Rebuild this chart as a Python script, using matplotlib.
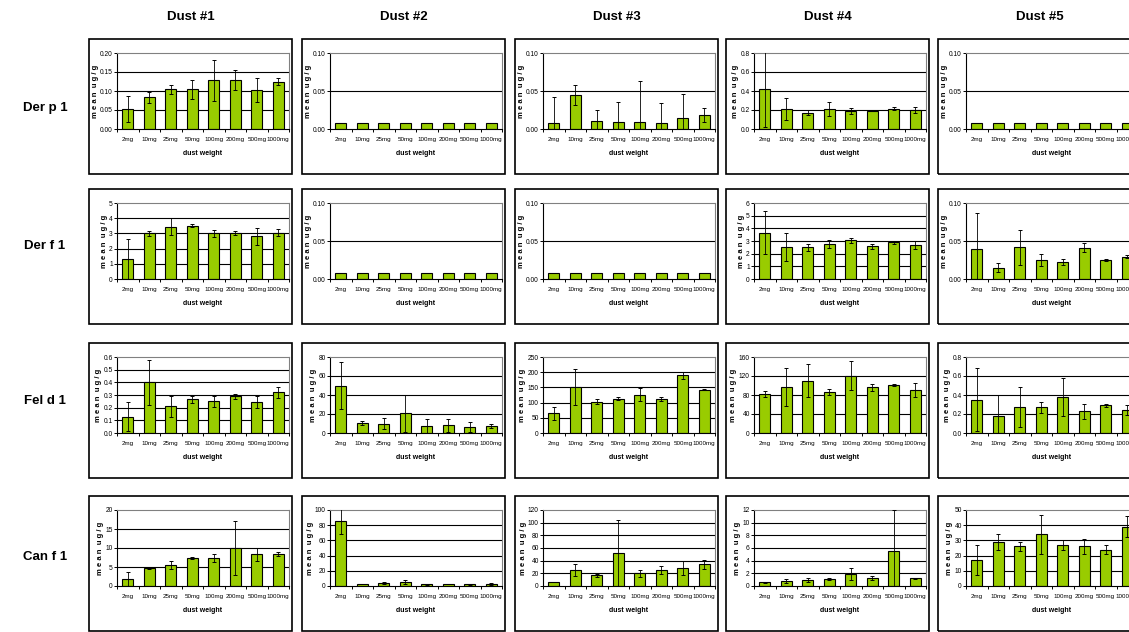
import numpy as np
import matplotlib.pyplot as plt
from matplotlib.patches import Rectangle

plt.rcParams['font.family'] = ['Liberation Sans', 'DejaVu Sans']

weights = ['2mg', '10mg', '25mg', '50mg', '100mg', '200mg', '500mg', '1000mg']
dusts = ['Dust #1', 'Dust #2', 'Dust #3', 'Dust #4', 'Dust #5']
allergens = ['Der p 1', 'Der f 1', 'Fel d 1', 'Can f 1']

# mean ug/g and error per dust weight, one row per dust sample
der_p1_mean = [[0.052, 0.083, 0.105, 0.105, 0.128, 0.128, 0.103, 0.125],
               [0.008, 0.008, 0.008, 0.008, 0.008, 0.008, 0.008, 0.008],
               [0.008, 0.045, 0.011, 0.009, 0.009, 0.008, 0.015, 0.018],
               [0.42, 0.21, 0.17, 0.21, 0.19, 0.185, 0.215, 0.20],
               [0.008, 0.008, 0.008, 0.008, 0.008, 0.008, 0.008, 0.008]]
der_p1_err = [[0.034, 0.014, 0.012, 0.025, 0.054, 0.026, 0.031, 0.010],
              [0, 0, 0, 0, 0, 0, 0, 0],
              [0.034, 0.013, 0.014, 0.026, 0.054, 0.026, 0.031, 0.009],
              [0.40, 0.12, 0.025, 0.07, 0.03, 0.0, 0.015, 0.03],
              [0, 0, 0, 0, 0, 0, 0, 0]]

der_f1_mean = [[1.3, 3.0, 3.45, 3.5, 3.0, 3.05, 2.8, 3.05],
               [0.008, 0.008, 0.008, 0.008, 0.008, 0.008, 0.008, 0.008],
               [0.008, 0.008, 0.008, 0.008, 0.008, 0.008, 0.008, 0.008],
               [3.65, 2.5, 2.5, 2.75, 3.05, 2.6, 2.9, 2.7],
               [0.040, 0.015, 0.042, 0.025, 0.022, 0.041, 0.025, 0.029]]
der_f1_err = [[1.3, 0.15, 0.58, 0.1, 0.25, 0.13, 0.55, 0.25],
              [0, 0, 0, 0, 0, 0, 0, 0],
              [0, 0, 0, 0, 0, 0, 0, 0],
              [1.7, 1.1, 0.25, 0.3, 0.2, 0.2, 0.1, 0.3],
              [0.047, 0.006, 0.023, 0.008, 0.004, 0.006, 0.001, 0.002]]

fel_d1_mean = [[0.13, 0.40, 0.21, 0.265, 0.25, 0.29, 0.245, 0.32],
               [50, 10.5, 10, 21, 7.5, 8, 6.5, 7.5],
               [65, 152, 103, 113, 126, 113, 190, 143],
               [82, 97, 110, 86, 121, 96, 101, 91],
               [0.35, 0.18, 0.27, 0.27, 0.38, 0.23, 0.29, 0.24]]
fel_d1_err = [[0.115, 0.18, 0.085, 0.025, 0.045, 0.02, 0.05, 0.04],
              [25, 2.5, 6, 19.5, 7, 6.5, 5.5, 2],
              [21, 60, 9, 5, 21, 7, 12, 3],
              [7, 40, 35, 6, 30, 7, 2, 15],
              [0.33, 0.22, 0.21, 0.06, 0.2, 0.08, 0.02, 0.05]]

can_f1_mean = [[1.8, 4.8, 5.5, 7.3, 7.4, 10.0, 8.3, 8.4],
               [85, 2.5, 3.5, 5, 2, 2.5, 2, 2.5],
               [6, 25, 17, 52, 20, 25, 29, 34],
               [0.6, 0.8, 1.0, 1.1, 1.9, 1.3, 5.6, 1.2],
               [17, 29, 26, 34, 27, 26, 24, 39]]
can_f1_err = [[2.0, 0.2, 1.0, 0.3, 1.1, 7.0, 1.7, 0.6],
              [17, 0.5, 1.5, 3, 0.5, 0.5, 0.5, 1],
              [0, 9, 2, 53, 5, 6, 11, 7],
              [0.1, 0.3, 0.3, 0.2, 1.0, 0.3, 6.4, 0.1],
              [10, 5, 3, 13, 3, 5, 3, 7]]

# axis maximum and tick step of every panel
y_max = [[0.20, 0.10, 0.10, 0.8, 0.10],
         [5, 0.10, 0.10, 6, 0.10],
         [0.6, 80, 250, 160, 0.8],
         [20, 100, 120, 12, 50]]
y_step = [[0.05, 0.05, 0.05, 0.2, 0.05],
          [1, 0.05, 0.05, 1, 0.05],
          [0.1, 20, 50, 40, 0.2],
          [5, 20, 20, 2, 10]]

means = [der_p1_mean, der_f1_mean, fel_d1_mean, can_f1_mean]
errs = [der_p1_err, der_f1_err, fel_d1_err, can_f1_err]

W, H = 1129, 632
fig = plt.figure(figsize=(W / 100, H / 100), dpi=100)

col_left = [89, 302, 515, 726, 938]
row_top = [39, 189, 343, 496]
panel_w, panel_h = 203, 135
row_label_y = [108, 246, 401, 557]

x = np.arange(len(weights))

for r in range(4):
    fig.text(45 / W, 1 - row_label_y[r] / H, allergens[r], fontsize=9.5,
             fontweight='bold', ha='center', va='center')
    for c in range(5):
        px, py = col_left[c], row_top[r]
        fig.add_artist(Rectangle((px / W, 1 - (py + panel_h) / H), panel_w / W, panel_h / H,
                                 transform=fig.transFigure, fill=False,
                                 edgecolor='black', linewidth=1.2))
        left = px + 28
        right = px + panel_w - 3
        top = py + 14
        bottom = py + panel_h - 45
        ax = fig.add_axes([left / W, 1 - bottom / H, (right - left) / W, (bottom - top) / H])

        m = np.array(means[r][c])
        e = np.array(errs[r][c])
        ymax, step = y_max[r][c], y_step[r][c]
        ticks = np.arange(0, ymax + step / 2, step)

        for t in ticks[1:-1]:
            ax.axhline(t, color='black', linewidth=0.8, zorder=1)
        ax.bar(x, m, width=0.5, color='#99cc00', edgecolor='black', linewidth=0.8, zorder=2)
        has_err = e > 0
        ax.errorbar(x[has_err], m[has_err], yerr=e[has_err], fmt='none', ecolor='black',
                    elinewidth=0.6, capsize=1.6, capthick=0.7, zorder=3)

        ax.set_xlim(-0.5, len(weights) - 0.5)
        ax.set_ylim(0, ymax)
        ax.set_yticks(ticks)
        if step < 0.1:
            ax.set_yticklabels(['%.2f' % t for t in ticks])
        elif step < 1:
            ax.set_yticklabels(['%.1f' % t for t in ticks])
        else:
            ax.set_yticklabels(['%d' % t for t in ticks])
        ax.set_xticks(x)
        ax.set_xticklabels(weights)
        ax.set_xticks(np.arange(-0.5, len(weights)), minor=True)
        ax.tick_params(axis='x', which='major', length=0, pad=5.5, labelsize=4.5)
        ax.tick_params(axis='x', which='minor', length=2.2, width=0.7, direction='out')
        ax.tick_params(axis='y', length=2, width=0.7, pad=1, labelsize=4.8)

        for side in ['left', 'bottom']:
            ax.spines[side].set_color('black')
            ax.spines[side].set_linewidth(0.8)
        for side in ['top', 'right']:
            ax.spines[side].set_color('#808080')
            ax.spines[side].set_linewidth(0.8)

        ax.set_ylabel('m e a n  u g / g', fontsize=5.5, fontweight='bold', labelpad=1)
        ax.set_xlabel('dust weight', fontsize=5, fontweight='bold', labelpad=6)

        if r == 0:
            fig.text((px + panel_w / 2) / W, 1 - 17 / H, dusts[c], fontsize=9.5,
                     fontweight='bold', ha='center', va='center')

fig.savefig('out.png', dpi=100)
